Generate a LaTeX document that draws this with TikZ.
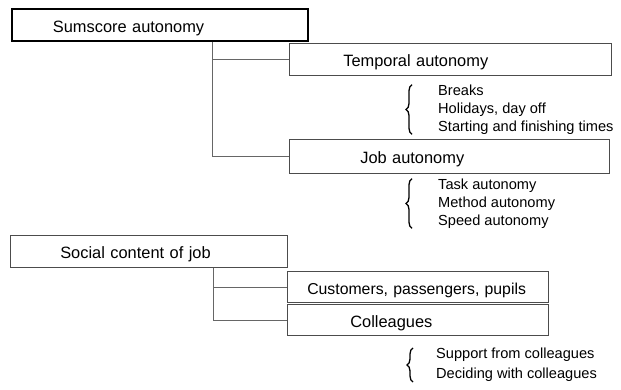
\documentclass[tikz,border=0pt]{standalone}
\usepackage{fontspec}
\setmainfont{Liberation Sans}
\usetikzlibrary{decorations.pathreplacing}
\begin{document}
\begin{tikzpicture}[x=1pt,y=-1pt,
  box/.style={draw=black!70, line width=0.6pt, anchor=north west, align=left,
    font=\fontsize{16.4}{19}\selectfont, inner ysep=0pt, text height=15pt, text depth=0pt},
  mainbox/.style={box, draw=black, line width=1.8pt},
  conn/.style={draw=black!60, line width=0.6pt},
  items/.style={anchor=west, align=left, inner sep=0pt,
    font=\fontsize{14.6}{17.8}\selectfont},
  curly/.style={decorate, decoration={brace, amplitude=6pt}, line width=1.3pt}]
\useasboundingbox (0,0) rectangle (621,390);
% autonomy group
\node[mainbox, inner xsep=41pt, text width=214pt, minimum height=32pt] (sum) at (11,8) {Sumscore autonomy};
\node[box, inner xsep=54pt, text width=214pt, minimum height=32pt] (temp) at (289,43) {Temporal autonomy};
\node[box, inner xsep=71pt, text width=178pt, minimum height=34pt] (job) at (289,139) {Job autonomy};
\coordinate (v1) at (212,0);
\draw[conn] (sum.south -| v1) |- (job.west);
\draw[conn] (v1 |- temp.west) -- (temp.west);
\node[items] (l1) at (438,109.5) {Breaks\\Holidays, day off\\Starting and finishing times};
\draw[curly] ([xshift=-26pt]l1.south west) -- ([xshift=-26pt]l1.north west);
\node[items] (l2) at (438,203.5) {Task autonomy\\Method autonomy\\Speed autonomy};
\draw[curly] ([xshift=-26pt]l2.south west) -- ([xshift=-26pt]l2.north west);
% social group
\node[box, inner xsep=50pt, text width=177pt, minimum height=32pt] (soc) at (10,235) {Social content of job};
\node[box, inner xsep=20pt, text width=221pt, minimum height=31pt, font=\fontsize{15.8}{19}\selectfont] (cust) at (287,271) {Customers, passengers, pupils};
\node[box, inner xsep=63pt, text width=135pt, minimum height=31pt] (coll) at (287,304) {Colleagues};
\coordinate (v2) at (213,0);
\draw[conn] (soc.south -| v2) |- (coll.west);
\draw[conn] (v2 |- cust.west) -- (cust.west);
\node[items, font=\fontsize{14.6}{20}\selectfont] (l3) at (436,365) {Support from colleagues\\Deciding with colleagues};
\draw[curly] ([xshift=-23pt]l3.south west) -- ([xshift=-23pt]l3.north west);
\end{tikzpicture}
\end{document}
